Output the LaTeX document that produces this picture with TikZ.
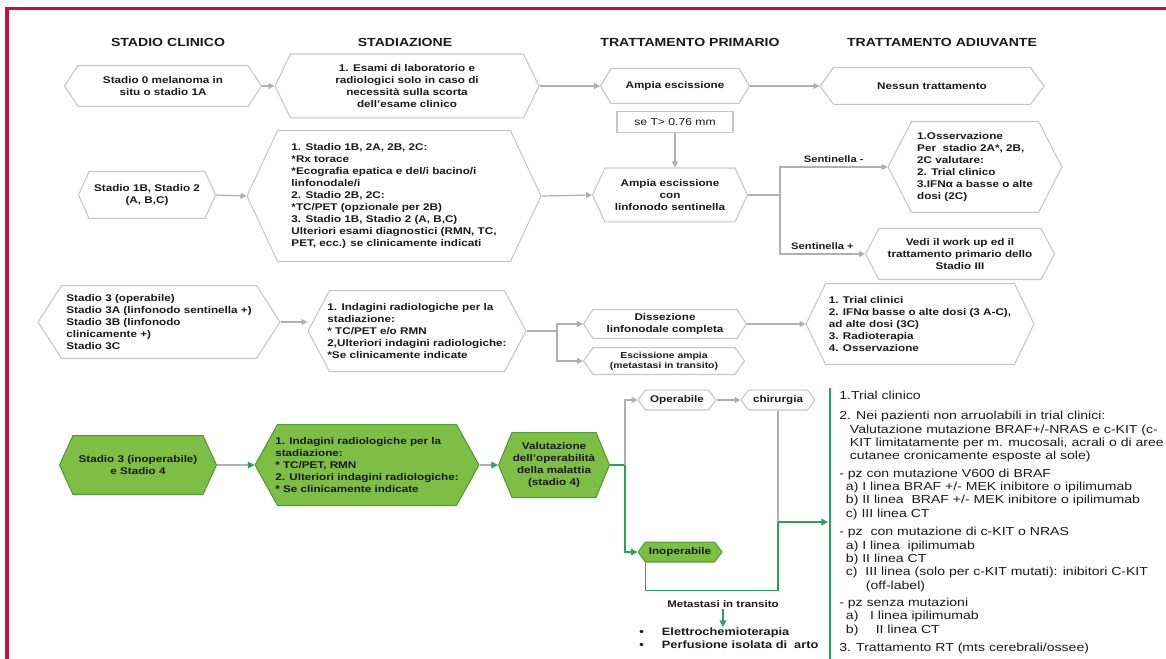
\documentclass[tikz,border=0pt]{standalone}
\usepackage{fontspec}
\setmainfont{Liberation Sans}[FakeStretch=1.2]
\newfontfamily\planfamily{Liberation Sans}[FakeStretch=1.205]
\usetikzlibrary{arrows.meta}

\definecolor{framered}{HTML}{C3143F}
\definecolor{wire}{HTML}{B0B0B0}
\definecolor{hexgray}{HTML}{C6C6C6}
\definecolor{leaf}{HTML}{7EBE46}
\definecolor{leafdark}{HTML}{4F9C34}
\definecolor{route}{HTML}{2AA35A}
\definecolor{ink}{HTML}{1A1A1A}

\newcommand\hexfont{\fontsize{7.3}{9}\selectfont\bfseries}
\newcommand\headfont{\fontsize{8.8}{10}\selectfont\bfseries}
\newcommand\planfont{\planfamily\fontsize{8.75}{10}\selectfont}

\tikzset{
  hexdepth/.store in=\hexd,
  hexfill/.store in=\hexf,
  hexline/.store in=\hexl,
  hexdepth=6pt, hexfill=white, hexline=hexgray,
  hexbox/.style n args={3}{
    minimum width=#1*0.75pt, minimum height=#2*0.75pt, hexdepth=#3*0.75pt,
    inner sep=0pt, outer sep=0pt, align=center, text=ink, font=\hexfont,
    path picture={
      \draw[line width=0.8pt, draw=\hexl, fill=\hexf]
        ([xshift=0.4pt]path picture bounding box.west)
        -- ([shift={(\hexd,-0.4pt)}]path picture bounding box.north west)
        -- ([shift={(-\hexd,-0.4pt)}]path picture bounding box.north east)
        -- ([xshift=-0.4pt]path picture bounding box.east)
        -- ([shift={(-\hexd,0.4pt)}]path picture bounding box.south east)
        -- ([shift={(\hexd,0.4pt)}]path picture bounding box.south west)
        -- cycle;
    }},
  greenhex/.style={hexfill=leaf, hexline=leafdark},
  header/.style={font=\headfont, text=ink, inner sep=0pt},
  tbox/.style={draw=hexgray, line width=0.8pt, minimum width=116*0.75pt,
    minimum height=21*0.75pt, inner sep=0pt, text=ink,
    font=\fontsize{7.6}{9}\selectfont},
  flowlabel/.style={font=\fontsize{7}{8.5}\selectfont\bfseries, text=ink, inner sep=2.5pt},
  wireline/.style={draw=wire, line width=0.9pt},
  flow/.style={wireline, -{Triangle[length=4.5pt, width=4.5pt]}},
  greenline/.style={draw=route, line width=1pt},
  greenflow/.style={greenline, -{Triangle[length=5pt, width=5pt]}},
  mixflow/.style={wireline, -{Triangle[length=5pt, width=5pt, color=route]}},
}

\begin{document}
\begin{tikzpicture}[x=0.75pt, y=-0.75pt]
\useasboundingbox (0,0) rectangle (1166,659);

% page frame
\draw[framered, line width=2.3pt] (7,659) -- (7,8.5) -- (1166,8.5);

% column headers
\node[header] (h1) at (168,42) {STADIO CLINICO};
\node[header] (h2) at (405,42) {STADIAZIONE};
\node[header] (h3) at (690,42) {TRATTAMENTO PRIMARIO};
\node[header] (h4) at (942,42) {TRATTAMENTO ADIUVANTE};

% row 1
\node[hexbox={198}{42}{14}] (a1) at (163,86) {Stadio 0 melanoma in\\situ o stadio 1A};
\node[hexbox={265}{65}{16}] (b1) at (407,86) {1. Esami di laboratorio e\\radiologici solo in caso di\\necessità sulla scorta\\dell’esame clinico};
\node[hexbox={150}{36}{11}] (c1) at (675,86) {Ampia escissione};
\node[hexbox={225}{38}{14}] (d1) at (932,86) {Nessun trattamento};
\node[tbox] (t1) at (675,122) {se T> 0.76 mm};

\draw[flow] (a1.east) -- (b1.west);
\draw[flow] (b1.east) -- (c1.west);
\draw[flow] (c1.east) -- (d1.west);

% row 2
\node[hexbox={138}{48}{11}] (a2) at (147,195) {Stadio 1B, Stadio 2\\(A, B,C)};
\node[hexbox={295}{132}{31}, align=left] (b2) at (394,196) {1. Stadio 1B, 2A, 2B, 2C:\\*Rx torace\\*Ecografia epatica e del/i bacino/i\\linfonodale/i\\2. Stadio 2B, 2C:\\*TC/PET (opzionale per 2B)\\3. Stadio 1B, Stadio 2 (A, B,C)\\Ulteriori esami diagnostici (RMN, TC,\\PET, ecc.) se clinicamente indicati};
\node[hexbox={156}{55}{13}] (c2) at (670,195) {Ampia escissione\\con\\linfonodo sentinella};
\node[hexbox={175}{92}{24}, align=left] (d2a) at (975,167) {1.Osservazione\\Per\ \ stadio 2A*, 2B,\\2C valutare:\\2. Trial clinico\\3.IFNα a basse o alte\\dosi (2C)};
\node[hexbox={190}{52}{14}] (d2b) at (960,254) {Vedi il work up ed il\\trattamento primario dello\\Stadio III};
\coordinate (j2) at (780,195);

\draw[flow] (t1.south) -- (t1.south |- c2.north);
\draw[flow] (a2.east) -- (b2.west);
\draw[flow] (b2.east) -- (c2.west);
\draw[wireline] (c2.east) -- (j2);
\draw[flow] (j2) |- (d2a.west) node[pos=0.75, above, flowlabel] (s1) {Sentinella -};
\draw[flow] (j2) |- (d2b.west) node[pos=0.75, above, flowlabel] (s2) {Sentinella +};

% row 3
\node[hexbox={243}{74}{24}, align=left] (a3) at (159,322) {Stadio 3 (operabile)\\Stadio 3A (linfonodo sentinella +)\\Stadio 3B (linfonodo\\clinicamente +)\\Stadio 3C};
\node[hexbox={219}{82}{22}, align=left] (b3) at (417,331) {1. Indagini radiologiche per la\\stadiazione:\\* TC/PET e/o RMN\\2,Ulteriori indagini radiologiche:\\*Se clinicamente indicate};
\coordinate (j3) at (557,331);
\node[hexbox={164}{30}{10}] (c3a) at (665,324) {Dissezione\\linfonodale completa};
\node[hexbox={162}{28}{10}, font=\fontsize{6.5}{7.8}\selectfont\bfseries] (c3b) at (664,361) {Escissione ampia\\(metastasi in transito)};
\node[hexbox={229}{82}{20}, align=left] (d3) at (920,324) {1. Trial clinici\\2. IFNα basse o alte dosi (3 A-C),\\ad alte dosi (3C)\\3. Radioterapia\\4. Osservazione};

\draw[flow] (a3.east) -- (a3.east -| b3.west);
\draw[wireline] (b3.east) -- (j3);
\draw[flow] (j3) |- (c3a.west);
\draw[flow] (j3) |- (c3b.west);
\draw[flow] (c3a.east) -- (d3.west);

% row 4
\node[hexbox={158}{60}{14}, greenhex] (a4) at (138,465) {Stadio 3 (inoperabile)\\e Stadio 4};
\node[hexbox={225}{82}{23}, greenhex, align=left] (b4) at (367,465) {1. Indagini radiologiche per la\\stadiazione:\\* TC/PET, RMN\\2. Ulteriori indagini radiologiche:\\* Se clinicamente indicate};
\node[hexbox={112}{66}{14}, greenhex] (c4) at (554,465) {Valutazione\\dell’operabilità\\della malattia\\(stadio 4)};
\coordinate (j4) at (625,465);
\node[hexbox={79}{21}{8}] (op) at (677,400) {Operabile};
\node[hexbox={75}{21}{8}] (ch) at (778,400) {chirurgia};
\node[hexbox={85}{21}{8}, greenhex] (inop) at (680,552) {Inoperabile};
\coordinate (tip) at (828,522);

\draw[mixflow] (a4.east) -- (b4.west);
\draw[mixflow] (b4.east) -- (c4.west);
\draw[greenline] (c4.east) -- (j4);
\draw[flow] (j4) |- (op.west);
\draw[greenflow] (j4) |- (inop.west);
\draw[flow] (op.east) -- (ch.west);
\draw[wireline] (ch.south) -- (ch.south |- tip);
\draw[greenline] ([xshift=6pt]inop.south west) -- ++(0,28) -| (ch.south |- tip);
\draw[greenflow] (ch.south |- tip) -- (tip);

% metastases in transit
\node[font=\fontsize{7.2}{9}\selectfont\bfseries, text=ink, inner sep=1pt] (meta) at (723,604) {Metastasi in transito};
\node[anchor=north west, align=left, inner sep=0pt, text=ink,
      font=\fontsize{8}{10.4}\selectfont\bfseries] (bul) at (639,627)
  {\makebox[17pt][l]{\textbullet}Elettrochemioterapia\\\makebox[17pt][l]{\textbullet}Perfusione isolata di\ \ arto};
\draw[greenflow] (meta.south) -- (meta.south |- bul.north);

% adjuvant options for stage 3 inoperable / stage 4
\coordinate (gtop) at (830,388);
\coordinate (gbot) at (830,659);
\draw[greenline] (gtop) -- (gbot);
\node[anchor=north west, align=left, inner sep=0pt, text=ink, font=\planfont] (plan) at (839,391)
{1.Trial clinico\\[5pt]
2. Nei pazienti non arruolabili in trial clinici:\\
\hspace*{8pt}Valutazione mutazione BRAF+/-NRAS e c-KIT (c-\\
\hspace*{8pt}KIT limitatamente per m. mucosali, acrali o di aree\\
\hspace*{8pt}cutanee cronicamente esposte al sole)\\[3pt]
- pz con mutazione V600 di BRAF\\
\hspace*{5pt}a) I linea BRAF +/- MEK inibitore o ipilimumab\\
\hspace*{5pt}b) II linea\ \ BRAF +/- MEK inibitore o ipilimumab\\
\hspace*{5pt}c) III linea CT\\[4pt]
- pz\ \ con mutazione di c-KIT o NRAS\\
\hspace*{5pt}a) I linea\ \ ipilimumab\\
\hspace*{5pt}b) II linea CT\\
\hspace*{5pt}c)\ \ III linea (solo per c-KIT mutati): inibitori C-KIT\\
\hspace*{20pt}(off-label)\\[3pt]
- pz senza mutazioni\\
\hspace*{5pt}a)\ \ \ I linea ipilimumab\\
\hspace*{5pt}b)\hspace{13pt}II linea CT\\[4pt]
3. Trattamento RT (mts cerebrali/ossee)};
\end{tikzpicture}
\end{document}
